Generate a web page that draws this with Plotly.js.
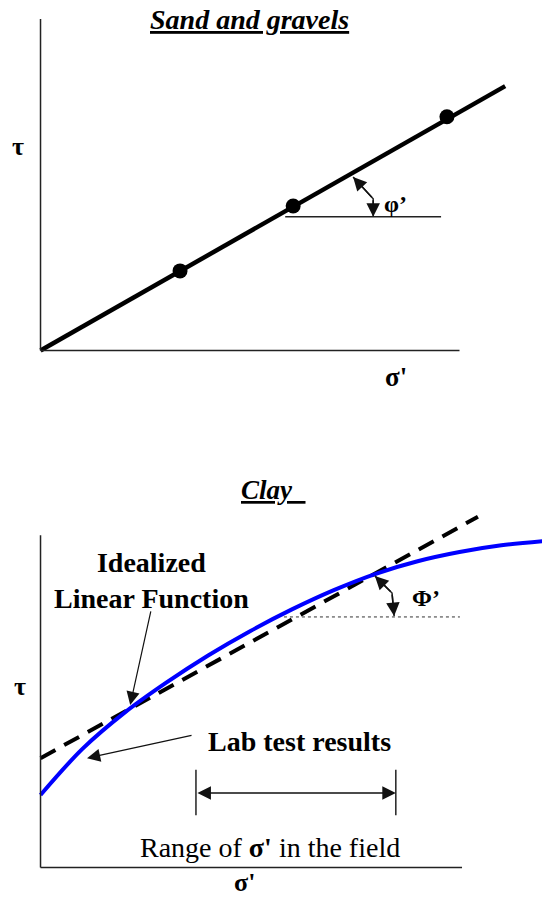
<!DOCTYPE html>
<html>
<head>
<meta charset="utf-8">
<script src="https://cdn.plot.ly/plotly-3.0.1.min.js"></script>
<style>html,body{margin:0;padding:0;background:#fff;}#chart{width:542px;height:897px;}</style>
</head>
<body>
<div id="chart"></div>
<script>
// ---- Data (abstract σ' / τ units) ----
const sandEnvelopeSigma = [0, 11.09];
const sandEnvelopeTau = [0, 6.31];
const sandTestSigma = [3.33, 6.03, 9.70];
const sandTestTau = [1.90, 3.45, 5.58];

const clayLabSigma = [0, 1, 2, 3, 4, 5, 6, 7, 8, 9, 10, 11, 12];
const clayLabTau = [1.73, 2.83, 3.69, 4.41, 5.06, 5.64, 6.16, 6.62, 7.01, 7.31, 7.53, 7.69, 7.79];
const clayIdealSigma = [0, 10.44];
const clayIdealTau = [2.61, 8.37];

const fieldRangeSigma = [3.71, 8.48];

const sandAngleArcSigma = [7.46, 7.94, 7.94];
const sandAngleArcTau = [4.14, 3.62, 3.19];
const clayAngleArcSigma = [7.98, 8.39, 8.44];
const clayAngleArcTau = [6.96, 6.55, 6.00];

const titles = ['Sand and gravels', 'Clay'];
const labels = {
  tau: 'τ', sigma: "σ'", phiSand: 'φ’', phiClay: 'Φ’',
  ideal: 'Idealized<br>Linear Function', lab: 'Lab test results',
  range: "Range of <b>σ'</b> in the field"
};

// ---- Traces ----
const serif = 'Liberation Serif, Times New Roman, Times, serif';
const traces = [
  {x: sandEnvelopeSigma, y: sandEnvelopeTau, xaxis: 'x', yaxis: 'y', mode: 'lines',
   line: {color: '#000', width: 4.5}},
  {x: sandTestSigma, y: sandTestTau, xaxis: 'x', yaxis: 'y', mode: 'markers',
   marker: {color: '#000', size: 15}},
  {x: sandAngleArcSigma, y: sandAngleArcTau, xaxis: 'x', yaxis: 'y', mode: 'lines',
   line: {color: '#222', width: 1.5}},
  {x: clayIdealSigma, y: clayIdealTau, xaxis: 'x2', yaxis: 'y2', mode: 'lines',
   line: {color: '#000', width: 4, dash: '17px,10px'}},
  {x: clayLabSigma, y: clayLabTau, xaxis: 'x2', yaxis: 'y2', mode: 'lines',
   line: {color: '#0000ff', width: 4, shape: 'spline', smoothing: 1}},
  {x: clayAngleArcSigma, y: clayAngleArcTau, xaxis: 'x2', yaxis: 'y2', mode: 'lines',
   line: {color: '#222', width: 1.5}}
];

// ---- Layout ----
const xr = [-0.967, 11.969];
const ax = (dom, r) => ({domain: dom, range: r, visible: false, fixedrange: true});

function arrowAnn(xref, yref, x, y, axv, ayv, opts) {
  return Object.assign({xref: xref, yref: yref, x: x, y: y, ax: axv, ay: ayv,
    axref: xref, ayref: yref, text: '', showarrow: true, arrowhead: 2,
    arrowsize: 1.8, arrowwidth: 1.5, arrowcolor: '#111'}, opts || {});
}
function textAnn(xref, yref, x, y, text, size, extra) {
  return Object.assign({xref: xref, yref: yref, x: x, y: y, text: text, showarrow: false,
    xanchor: 'center', yanchor: 'middle',
    font: {family: serif, size: size, color: '#000'}}, extra || {});
}

const annotations = [
  textAnn('x', 'y', 4.98, 7.89, '<b><i><u>' + titles[0] + '</u></i></b>', 28),
  textAnn('x', 'y', -0.54, 4.88, '<b>' + labels.tau + '</b>', 26),
  textAnn('x', 'y', 8.48, -0.63, '<b>' + labels.sigma + '</b>', 27),
  textAnn('x', 'y', 8.48, 3.50, '<b>' + labels.phiSand + '</b>', 24),
  arrowAnn('x', 'y', sandAngleArcSigma[0], sandAngleArcTau[0], sandAngleArcSigma[1], sandAngleArcTau[1]),
  arrowAnn('x', 'y', sandAngleArcSigma[2], sandAngleArcTau[2], sandAngleArcSigma[1], sandAngleArcTau[1]),

  textAnn('x2', 'y2', 5.55, 9.01, '<b><i><u>' + titles[1] + '  </u></i></b>', 27),
  textAnn('x2', 'y2', -0.49, 4.31, '<b>' + labels.tau + '</b>', 26),
  textAnn('x2', 'y2', 4.86, -0.36, '<b>' + labels.sigma + '</b>', 26),
  textAnn('x2', 'y2', 9.20, 6.43, '<b>' + labels.phiClay + '</b>', 24),
  arrowAnn('x2', 'y2', clayAngleArcSigma[0], clayAngleArcTau[0], clayAngleArcSigma[1], clayAngleArcTau[1]),
  arrowAnn('x2', 'y2', clayAngleArcSigma[2], clayAngleArcTau[2], clayAngleArcSigma[1], clayAngleArcTau[1]),
  textAnn('x2', 'y2', 2.66, 6.86, '<b>' + labels.ideal + '</b>', 28),
  arrowAnn('x2', 'y2', 2.14, 3.88, 2.64, 6.15, {arrowwidth: 1.2, arrowsize: 2.2}),
  textAnn('x2', 'y2', 6.19, 3.00, '<b>' + labels.lab + '</b>', 28),
  arrowAnn('x2', 'y2', 1.11, 2.61, 3.64, 3.16, {arrowwidth: 1.2, arrowsize: 2.2}),
  arrowAnn('x2', 'y2', fieldRangeSigma[1], 1.78, fieldRangeSigma[0], 1.78, {arrowside: 'end+start', arrowwidth: 1.5}),
  textAnn('x2', 'y2', 5.48, 0.47, labels.range, 28)
];

const axisLine = {color: '#222', width: 1.5};
const shapes = [
  {type: 'line', xref: 'x', yref: 'y', x0: 0, y0: 0, x1: 10, y1: 0, line: axisLine},
  {type: 'line', xref: 'x', yref: 'y', x0: 0, y0: 0, x1: 0, y1: 7.91, line: axisLine},
  {type: 'line', xref: 'x', yref: 'y', x0: 5.84, y0: 3.19, x1: 9.56, y1: 3.19, line: axisLine},
  {type: 'line', xref: 'x2', yref: 'y2', x0: 0, y0: 0, x1: 10.06, y1: 0, line: axisLine},
  {type: 'line', xref: 'x2', yref: 'y2', x0: 0, y0: 0, x1: 0, y1: 7.93, line: axisLine},
  {type: 'line', xref: 'x2', yref: 'y2', x0: 5.81, y0: 5.98, x1: 10.01, y1: 5.98,
   line: {color: '#333', width: 1, dash: 'dot'}},
  {type: 'line', xref: 'x2', yref: 'y2', x0: fieldRangeSigma[0], y0: 1.25, x1: fieldRangeSigma[0], y1: 2.33, line: axisLine},
  {type: 'line', xref: 'x2', yref: 'y2', x0: fieldRangeSigma[1], y0: 1.25, x1: fieldRangeSigma[1], y1: 2.33, line: axisLine}
];

const layout = {
  width: 542, height: 897,
  margin: {l: 0, r: 0, t: 0, b: 0},
  paper_bgcolor: '#fff', plot_bgcolor: '#fff',
  showlegend: false,
  xaxis: ax([0, 1], xr), yaxis: ax([0.5, 1], [-2.339, 8.365]),
  xaxis2: ax([0, 1], xr), yaxis2: ax([0, 0.5], [-0.704, 10.0]),
  annotations: annotations,
  shapes: shapes
};

Plotly.newPlot('chart', traces, layout, {displayModeBar: false, staticPlot: true});
</script>
</body>
</html>
